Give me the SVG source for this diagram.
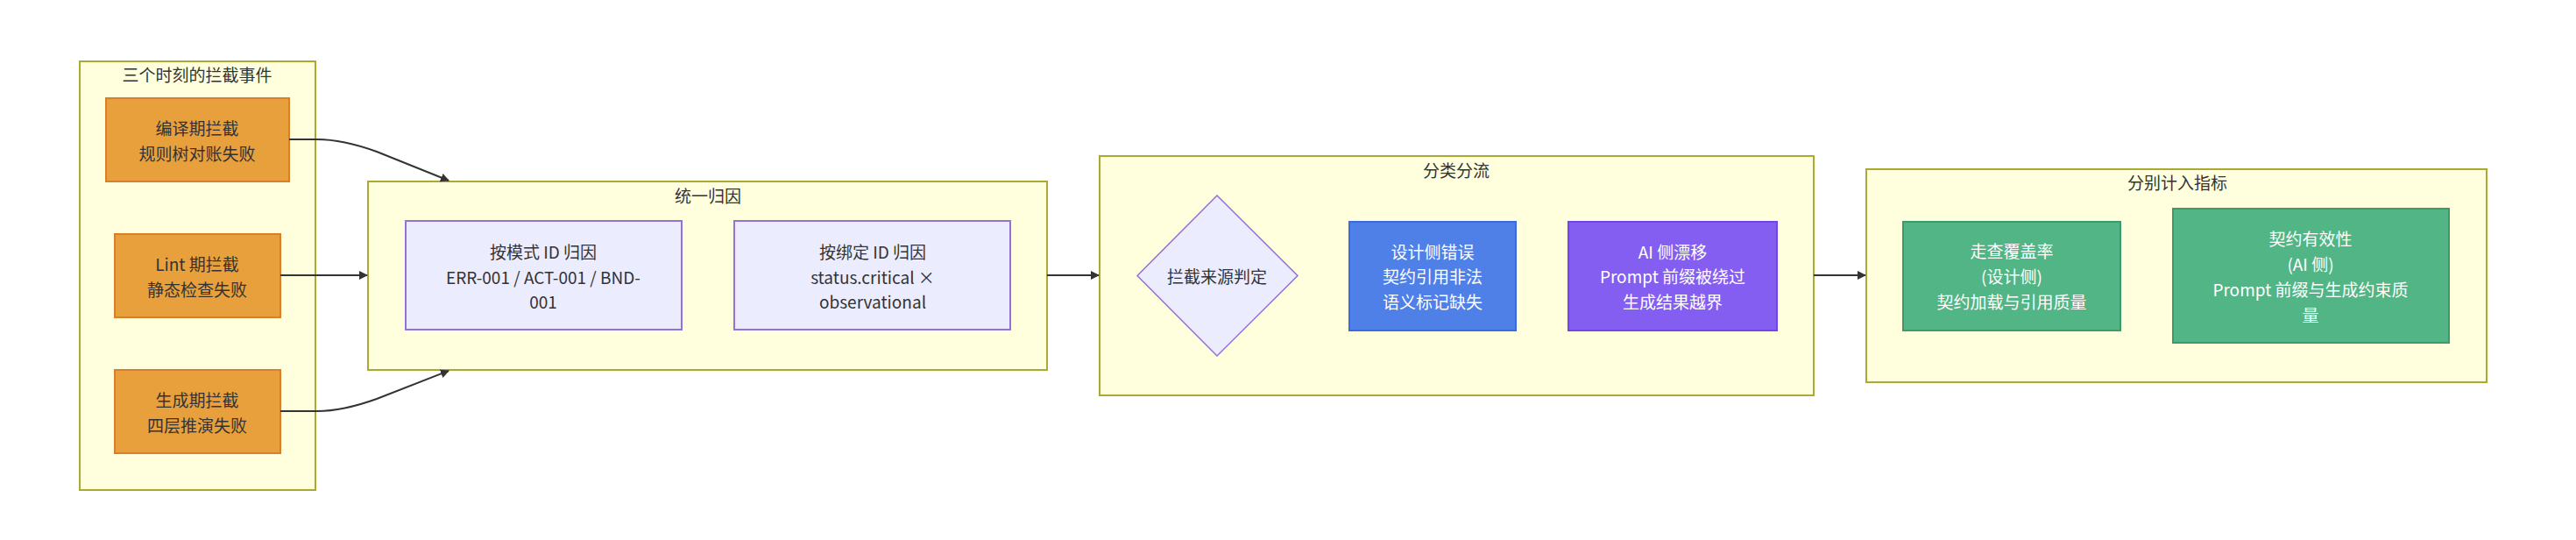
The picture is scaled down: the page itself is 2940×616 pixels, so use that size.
<svg xmlns="http://www.w3.org/2000/svg" width="2940" height="616" viewBox="0 0 2940 616">
<defs>
<style>
.cluster{fill:#ffffde;stroke:#aaaa33;stroke-width:2}
.t{font-family:"Noto Sans CJK SC","Noto Sans",sans-serif;font-size:19px;fill:#333;text-anchor:middle;dominant-baseline:central}
.w{fill:#ffffff}
.orange{fill:#e8a03c;stroke:#d97f2c;stroke-width:2}
.def{fill:#ececff;stroke:#9370db;stroke-width:2}
.blue{fill:#4f80e8;stroke:#3a6be0;stroke-width:2}
.purple{fill:#845ef0;stroke:#7345e8;stroke-width:2}
.green{fill:#52b585;stroke:#3d9a6b;stroke-width:2}
.edge{fill:none;stroke:#333;stroke-width:2}
</style>
<marker id="arrow" viewBox="0 0 10 10" refX="9" refY="5" markerWidth="10" markerHeight="10" markerUnits="userSpaceOnUse" orient="auto">
<path d="M0,0 L10,5 L0,10 z" fill="#333"/>
</marker>
</defs>

<g id="cluster-events">
<rect class="cluster" x="91" y="70" width="269" height="489"/>
<text class="t" x="225" y="84">三个时刻的拦截事件</text>
</g>
<g id="cluster-attr">
<rect class="cluster" x="420" y="207" width="775" height="215"/>
<text class="t" x="808" y="222">统一归因</text>
</g>
<g id="cluster-split">
<rect class="cluster" x="1255" y="178" width="815" height="273"/>
<text class="t" x="1662" y="193">分类分流</text>
</g>
<g id="cluster-metric">
<rect class="cluster" x="2130" y="193" width="708" height="243"/>
<text class="t" x="2485" y="207">分别计入指标</text>
</g>

<g id="node-compile">
<rect class="orange" x="121" y="112" width="209" height="95"/>
<text class="t" x="225" y="145">编译期拦截</text>
<text class="t" x="225" y="174">规则树对账失败</text>
</g>
<g id="node-lint">
<rect class="orange" x="131" y="267" width="189" height="95"/>
<text class="t" x="225" y="300">Lint 期拦截</text>
<text class="t" x="225" y="329">静态检查失败</text>
</g>
<g id="node-gen">
<rect class="orange" x="131" y="422" width="189" height="95"/>
<text class="t" x="225" y="455">生成期拦截</text>
<text class="t" x="225" y="484">四层推演失败</text>
</g>

<g id="node-pattern">
<rect class="def" x="463" y="252" width="315" height="124"/>
<text class="t" x="620" y="286">按模式 ID 归因</text>
<text class="t" x="620" y="315">ERR-001 / ACT-001 / BND-</text>
<text class="t" x="620" y="343">001</text>
</g>
<g id="node-binding">
<rect class="def" x="838" y="252" width="315" height="124"/>
<text class="t" x="996" y="286">按绑定 ID 归因</text>
<text class="t" x="996" y="315">status.critical ×</text>
<text class="t" x="996" y="343">observational</text>
</g>

<g id="node-decide">
<polygon class="def" points="1389,223 1481,314.5 1389,406 1298,314.5" style="stroke-width:1.5"/>
<text class="t" x="1389" y="314">拦截来源判定</text>
</g>
<g id="node-design">
<rect class="blue" x="1540" y="253" width="190" height="124"/>
<text class="t w" x="1635" y="286">设计侧错误</text>
<text class="t w" x="1635" y="314">契约引用非法</text>
<text class="t w" x="1635" y="343">语义标记缺失</text>
</g>
<g id="node-ai">
<rect class="purple" x="1790" y="253" width="238" height="124"/>
<text class="t w" x="1909" y="286">AI 侧漂移</text>
<text class="t w" x="1909" y="314">Prompt 前缀被绕过</text>
<text class="t w" x="1909" y="343">生成结果越界</text>
</g>

<g id="node-coverage">
<rect class="green" x="2172" y="253" width="248" height="124"/>
<text class="t w" x="2296" y="285">走查覆盖率</text>
<text class="t w" x="2296" y="314">(设计侧)</text>
<text class="t w" x="2296" y="343">契约加载与引用质量</text>
</g>
<g id="node-validity">
<rect class="green" x="2480" y="238" width="315" height="153"/>
<text class="t w" x="2637" y="271">契约有效性</text>
<text class="t w" x="2637" y="300">(AI 侧)</text>
<text class="t w" x="2637" y="329">Prompt 前缀与生成约束质</text>
<text class="t w" x="2637" y="358">量</text>
</g>

<g id="connectors">
<path class="edge" d="M330,159 L362,159 C385,159 405,164 430,173 L512,206" marker-end="url(#arrow)"/>
<path class="edge" d="M320,314 L419,314" marker-end="url(#arrow)"/>
<path class="edge" d="M320,469 L362,469 C385,469 405,464 430,455 L512,423" marker-end="url(#arrow)"/>
<path class="edge" d="M1195,314 L1254,314" marker-end="url(#arrow)"/>
<path class="edge" d="M2070,314 L2129,314" marker-end="url(#arrow)"/>
</g>
</svg>
